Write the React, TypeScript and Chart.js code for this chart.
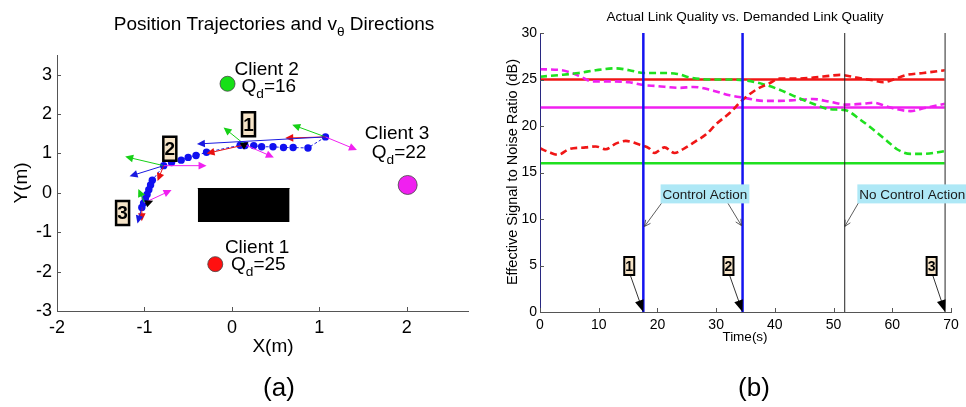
import React, { useEffect, useRef } from 'react';
import { Chart, registerables } from 'chart.js';
Chart.register(...registerables);

const FONT = 'Arial, "Liberation Sans", Helvetica, sans-serif';

// ---------------- Panel (a): trajectories ----------------
const trajX = [1.07, 0.87, 0.7, 0.59, 0.47, 0.34, 0.25, 0.15, 0.095, -0.29, -0.41, -0.5, -0.58, -0.69, -0.78, -0.91, -0.93, -0.95, -0.97, -0.99, -1.01, -1.03];
const trajY = [1.42, 1.14, 1.15, 1.15, 1.17, 1.17, 1.2, 1.2, 1.21, 1.03, 0.95, 0.9, 0.83, 0.77, 0.69, 0.32, 0.2, 0.08, -0.04, -0.15, -0.26, -0.37];
const thickFromIndex = 15;

const clientNames = ['Client 1', 'Client 2', 'Client 3'];
const clientX = [-0.19, -0.05, 2.01];
const clientY = [-1.81, 2.77, 0.2];
const clientQd = [25, 16, 22];
const clientColors = ['#ff1010', '#16e016', '#f020f0'];
const clientRadius = [7.5, 7.5, 9.5];
const clientLabelX = [-0.08, 0.03, 1.52];
const clientLabelY = [-1.52, 3.0, 1.37];
const clientQdX = [-0.01, 0.11, 1.6];
const clientQdY = [-1.96, 2.57, 0.89];

const obstacleX = [-0.39, 0.66];
const obstacleY = [-0.74, 0.11];

// quiver arrows: [x0, y0, x1, y1]
const greenArrows = [[1.07, 1.42, 0.69, 1.73], [0.15, 1.22, -0.095, 1.66], [-0.78, 0.69, -1.22, 0.92], [-1.0, -0.25, -1.07, 0.1]];
const magentaArrows = [[1.07, 1.42, 1.43, 1.09], [0.15, 1.22, 0.48, 0.9], [-0.78, 0.69, -0.29, 0.69], [-1.0, -0.25, -0.69, 0.07]];
const redArrows = [[1.07, 1.42, 0.61, 1.39], [0.15, 1.22, -0.29, 1.0], [-0.78, 0.69, -0.85, 0.3], [-1.03, -0.37, -1.03, -0.72]];
const blueArrows = [[1.07, 1.42, -0.4, 1.24], [-0.78, 0.69, -1.17, 0.42], [-1.03, -0.37, -1.08, -0.78]];
const blackArrows = [[0.13, 1.2, 0.19, 1.29], [-0.99, -0.28, -0.9, -0.2]];

const markerTextsA = ['1', '2', '3'];
const markerXA = [0.19, -0.71, -1.25];
const markerYA = [1.74, 1.12, -0.51];

// ---------------- Panel (b): link quality ----------------
const redT = [0, 1.5, 3.1, 4.9, 7.8, 9.5, 11.2, 12.9, 14.6, 16.9, 18.6, 19.5, 21.2, 22.9, 24.6, 26.6, 28.3, 30.0, 32.3, 34.5, 36.8, 39.1, 40.8, 43.7, 46.5, 49.4, 51.1, 53.9, 56.8, 58.5, 60.2, 62.5, 65.3, 69];
const redV = [17.6, 17.2, 16.9, 17.5, 17.7, 17.8, 17.5, 18.1, 18.4, 18.0, 17.6, 17.1, 17.7, 17.1, 17.6, 18.4, 19.1, 20.2, 21.4, 22.8, 23.9, 24.6, 25.1, 25.1, 25.2, 25.4, 25.5, 25.2, 24.9, 24.7, 25.0, 25.5, 25.7, 26.0];
const greenT = [0, 3.7, 6.6, 9.5, 12.9, 15.2, 17.6, 21.0, 23.4, 25.6, 29.5, 32.3, 35.1, 38.0, 40.8, 43.7, 46.5, 49.4, 52.0, 54.5, 56.8, 59.1, 60.8, 63.1, 65.3, 69];
const greenV = [25.3, 25.5, 25.7, 26.0, 26.2, 26.0, 25.7, 25.7, 25.6, 25.2, 25.0, 25.0, 24.9, 24.5, 23.9, 23.1, 22.4, 21.8, 21.7, 20.7, 19.6, 18.4, 17.5, 17.0, 17.0, 17.3];
const magentaT = [0, 3.7, 6.6, 8.9, 12.4, 15.2, 17.6, 19.8, 23.8, 26.1, 29.5, 32.3, 35.1, 38.0, 40.8, 43.7, 46.5, 49.4, 52.2, 55.1, 56.8, 59.1, 60.8, 63.1, 65.3, 69];
const magentaV = [26.1, 26.0, 25.4, 24.8, 24.8, 24.7, 24.4, 24.3, 24.1, 24.2, 23.8, 23.3, 23.0, 22.7, 22.7, 22.8, 22.9, 22.6, 22.3, 22.4, 22.5, 22.1, 21.8, 21.6, 21.9, 22.4];

const demandLevels = [25, 22, 16];
const demandEnd = 69;
const controlTimes = [17.6, 34.5];
const noControlTime = 51.9;
const endTime = 69.0;

const calloutTexts = ['Control Action', 'No Control Action'];
const calloutCenters = [[28.1, 12.7], [63.4, 12.7]];
const calloutArrows = [[20.7, 11.7, 17.8, 9.2], [32.0, 11.7, 34.3, 9.3], [54.3, 11.8, 51.9, 9.2]];
const markerTextsB = ['1', '2', '3'];
const markerCentersB = [[15.2, 4.95], [32.1, 4.95], [66.7, 4.95]];
const markerTipsB = [[17.6, 0], [34.5, 0], [69.0, 0]];

// ---------------- drawing helpers ----------------
type Part = { t: string; sub?: boolean };

function drawRich(ctx: CanvasRenderingContext2D, x: number, y: number, parts: Part[], size: number, align: 'left' | 'center') {
  const subSize = size * 0.72;
  const widths = parts.map((p) => {
    ctx.font = `${p.sub ? subSize : size}px ${FONT}`;
    return ctx.measureText(p.t).width;
  });
  const total = widths.reduce((a, b) => a + b, 0);
  let cx = align === 'center' ? x - total / 2 : x;
  ctx.textAlign = 'left';
  ctx.textBaseline = 'alphabetic';
  parts.forEach((p, i) => {
    ctx.font = `${p.sub ? subSize : size}px ${FONT}`;
    ctx.fillText(p.t, cx, p.sub ? y + size * 0.32 : y);
    cx += widths[i];
  });
}

function drawArrow(ctx: CanvasRenderingContext2D, x0: number, y0: number, x1: number, y1: number, color: string, lw: number, len: number, half: number, filled: boolean) {
  const a = Math.atan2(y1 - y0, x1 - x0);
  const c = Math.cos(a), s = Math.sin(a);
  ctx.save();
  ctx.strokeStyle = color;
  ctx.fillStyle = color;
  ctx.lineWidth = lw;
  ctx.beginPath();
  ctx.moveTo(x0, y0);
  ctx.lineTo(filled ? x1 - c * len * 0.8 : x1, filled ? y1 - s * len * 0.8 : y1);
  ctx.stroke();
  const bx = x1 - c * len, by = y1 - s * len;
  ctx.beginPath();
  ctx.moveTo(x1, y1);
  ctx.lineTo(bx - s * half, by + c * half);
  if (filled) {
    ctx.lineTo(bx + s * half, by - c * half);
    ctx.closePath();
    ctx.fill();
  } else {
    ctx.moveTo(x1, y1);
    ctx.lineTo(bx + s * half, by - c * half);
    ctx.stroke();
  }
  ctx.restore();
}

function drawMarkerBox(ctx: CanvasRenderingContext2D, cx: number, cy: number, text: string, size: number, w: number, h: number, lw: number) {
  ctx.save();
  ctx.fillStyle = '#f6e4c8';
  ctx.strokeStyle = '#000';
  ctx.lineWidth = lw;
  ctx.beginPath();
  ctx.rect(cx - w / 2, cy - h / 2, w, h);
  ctx.fill();
  ctx.stroke();
  ctx.fillStyle = '#000';
  ctx.font = `bold ${size}px ${FONT}`;
  ctx.textAlign = 'center';
  ctx.textBaseline = 'middle';
  ctx.fillText(text, cx, cy + 1);
  ctx.restore();
}

function drawInnerTicks(chart: any, len: number) {
  const { ctx, chartArea } = chart;
  const xs = chart.scales.x, ys = chart.scales.y;
  ctx.save();
  ctx.strokeStyle = '#555';
  ctx.lineWidth = 1;
  xs.ticks.forEach((t: any) => {
    const p = Math.round(xs.getPixelForValue(t.value)) + 0.5;
    ctx.beginPath();
    ctx.moveTo(p, chartArea.bottom);
    ctx.lineTo(p, chartArea.bottom - len);
    ctx.stroke();
  });
  ys.ticks.forEach((t: any) => {
    const p = Math.round(ys.getPixelForValue(t.value)) + 0.5;
    ctx.beginPath();
    ctx.moveTo(chartArea.left, p);
    ctx.lineTo(chartArea.left + len, p);
    ctx.stroke();
  });
  ctx.restore();
}

const arrowSets: [number[][], string][] = [
  [greenArrows, '#16d016'],
  [magentaArrows, '#f020f0'],
  [redArrows, '#e81010'],
  [blueArrows, '#1a1ae0'],
  [blackArrows, '#000'],
];

const panelAPlugin = {
  id: 'panelA',
  afterDatasetsDraw(chart: any) {
    const { ctx } = chart;
    const xs = chart.scales.x, ys = chart.scales.y;
    arrowSets.forEach(([list, color]) => {
      list.forEach((a) => {
        drawArrow(ctx, xs.getPixelForValue(a[0]), ys.getPixelForValue(a[1]), xs.getPixelForValue(a[2]), ys.getPixelForValue(a[3]), color, 1, 8, 3.8, true);
      });
    });
    markerTextsA.forEach((t, i) => {
      drawMarkerBox(ctx, xs.getPixelForValue(markerXA[i]), ys.getPixelForValue(markerYA[i]), t, 19, 13, 24, 2.5);
    });
    ctx.save();
    ctx.fillStyle = '#000';
    clientNames.forEach((n, i) => {
      drawRich(ctx, xs.getPixelForValue(clientLabelX[i]), ys.getPixelForValue(clientLabelY[i]), [{ t: n }], 19, 'left');
      drawRich(ctx, xs.getPixelForValue(clientQdX[i]), ys.getPixelForValue(clientQdY[i]), [{ t: 'Q' }, { t: 'd', sub: true }, { t: '=' + clientQd[i] }], 19, 'left');
    });
    ctx.restore();
  },
  afterDraw(chart: any) {
    const { ctx } = chart;
    drawInnerTicks(chart, 4);
    ctx.save();
    ctx.fillStyle = '#000';
    drawRich(ctx, 274, 30, [{ t: 'Position Trajectories and v' }, { t: 'θ', sub: true }, { t: ' Directions' }], 19, 'center');
    drawRich(ctx, 273, 352, [{ t: 'X(m)' }], 19, 'center');
    drawRich(ctx, 279, 396, [{ t: '(a)' }], 26, 'center');
    ctx.translate(27, 183);
    ctx.rotate(-Math.PI / 2);
    drawRich(ctx, 0, 0, [{ t: 'Y(m)' }], 19, 'center');
    ctx.restore();
  },
};

const panelBPlugin = {
  id: 'panelB',
  afterDatasetsDraw(chart: any) {
    const { ctx } = chart;
    const xs = chart.scales.x, ys = chart.scales.y;
    calloutArrows.forEach((a) => {
      drawArrow(ctx, xs.getPixelForValue(a[0]), ys.getPixelForValue(a[1]), xs.getPixelForValue(a[2]), ys.getPixelForValue(a[3]), '#333', 0.8, 6, 3, false);
    });
    calloutTexts.forEach((t, i) => {
      const cx = xs.getPixelForValue(calloutCenters[i][0]);
      const cy = ys.getPixelForValue(calloutCenters[i][1]);
      ctx.save();
      ctx.font = `13.5px ${FONT}`;
      const w = ctx.measureText(t).width + 4;
      ctx.fillStyle = '#aee8f6';
      ctx.fillRect(cx - w / 2, cy - 9.5, w, 19);
      ctx.fillStyle = '#1a1a1a';
      ctx.textAlign = 'center';
      ctx.textBaseline = 'middle';
      ctx.fillText(t, cx, cy + 1);
      ctx.restore();
    });
    markerTextsB.forEach((t, i) => {
      const cx = xs.getPixelForValue(markerCentersB[i][0]);
      const cy = ys.getPixelForValue(markerCentersB[i][1]);
      const tx = xs.getPixelForValue(markerTipsB[i][0]);
      const ty = ys.getPixelForValue(markerTipsB[i][1]);
      drawArrow(ctx, cx + 1, cy + 9, tx, ty, '#000', 0.8, 12, 4.5, true);
      drawMarkerBox(ctx, cx, cy, t, 14, 10, 18, 2);
    });
  },
  afterDraw(chart: any) {
    const { ctx } = chart;
    drawInnerTicks(chart, 4);
    ctx.save();
    ctx.fillStyle = '#000';
    drawRich(ctx, 265, 21, [{ t: 'Actual Link Quality vs. Demanded Link Quality' }], 13.5, 'center');
    drawRich(ctx, 265, 341, [{ t: 'Time(s)' }], 13.5, 'center');
    drawRich(ctx, 274, 396, [{ t: '(b)' }], 26, 'center');
    ctx.translate(37, 172);
    ctx.rotate(-Math.PI / 2);
    drawRich(ctx, 0, 0, [{ t: 'Effective Signal to Noise Ratio (dB)' }], 14.5, 'center');
    ctx.restore();
  },
};

function pts(xs: number[], ys: number[]) {
  return xs.map((x, i) => ({ x, y: ys[i] }));
}

function makeLeft(canvas: HTMLCanvasElement) {
  const datasets: any[] = [
    {
      data: [{ x: obstacleX[0], y: obstacleY[1] }, { x: obstacleX[1], y: obstacleY[1] }],
      fill: { value: obstacleY[0] },
      backgroundColor: '#000',
      borderColor: '#000',
      borderWidth: 1,
      pointRadius: 0,
      order: 3,
    },
    {
      data: pts(trajX, trajY),
      showLine: true,
      borderColor: '#2020e0',
      borderWidth: 1,
      borderDash: [3, 2],
      segment: {
        borderWidth: (c: any) => (c.p0DataIndex >= thickFromIndex ? 5 : 1),
        borderDash: (c: any) => (c.p0DataIndex >= thickFromIndex ? [] : [3, 2]),
        borderColor: (c: any) => (c.p0DataIndex >= thickFromIndex ? '#1010f0' : '#2020e0'),
      },
      pointRadius: 3.7,
      pointBackgroundColor: '#1010f0',
      pointBorderWidth: 0,
      order: 2,
    },
  ];
  clientNames.forEach((_, i) => {
    datasets.push({
      data: [{ x: clientX[i], y: clientY[i] }],
      showLine: false,
      pointRadius: clientRadius[i],
      pointBackgroundColor: clientColors[i],
      pointBorderColor: '#444',
      pointBorderWidth: 0.8,
      order: 1,
    });
  });
  return new Chart(canvas, {
    type: 'line',
    data: { datasets },
    options: {
      responsive: false,
      animation: false,
      devicePixelRatio: 1,
      layout: { padding: { left: 0, top: 55, right: 12, bottom: 0 } },
      plugins: { legend: { display: false }, tooltip: { enabled: false } },
      scales: {
        x: {
          type: 'linear',
          min: -2,
          max: 2.7,
          afterFit: (s: any) => { s.height = 96; },
          grid: { display: false, drawTicks: false },
          border: { display: true, color: '#555', width: 1 },
          ticks: { stepSize: 1, includeBounds: false, padding: 6, color: '#000', font: { family: FONT, size: 18 }, maxRotation: 0, autoSkip: false },
        },
        y: {
          type: 'linear',
          min: -3,
          max: 3.5,
          afterFit: (s: any) => { s.width = 57; },
          grid: { display: false, drawTicks: false },
          border: { display: true, color: '#555', width: 1 },
          ticks: { stepSize: 1, includeBounds: false, padding: 5, color: '#000', font: { family: FONT, size: 18 } },
        },
      },
    } as any,
    plugins: [panelAPlugin],
  });
}

function makeRight(canvas: HTMLCanvasElement) {
  const demandColors = ['#f01616', '#f020f0', '#1fe01f'];
  const datasets: any[] = [];
  demandLevels.forEach((v, i) => {
    datasets.push({ data: [{ x: 0, y: v }, { x: demandEnd, y: v }], borderColor: demandColors[i], borderWidth: 2.5, pointRadius: 0, order: 3 });
  });
  const series: [number[], number[], string][] = [
    [redT, redV, '#f01616'],
    [greenT, greenV, '#1fe01f'],
    [magentaT, magentaV, '#f020f0'],
  ];
  series.forEach(([t, v, c]) => {
    datasets.push({ data: pts(t, v), borderColor: c, borderWidth: 2.6, borderDash: [7, 4], pointRadius: 0, tension: 0.3, cubicInterpolationMode: 'monotone', order: 2 });
  });
  controlTimes.forEach((t) => {
    datasets.push({ data: [{ x: t, y: 0 }, { x: t, y: 30 }], borderColor: '#1414f0', borderWidth: 2.5, pointRadius: 0, order: 1 });
  });
  datasets.push({ data: [{ x: noControlTime, y: 0 }, { x: noControlTime, y: 30 }], borderColor: '#222', borderWidth: 1, pointRadius: 0, order: 1 });
  datasets.push({ data: [{ x: endTime, y: 0 }, { x: endTime, y: 30 }], borderColor: '#777', borderWidth: 1.6, pointRadius: 0, order: 1 });
  datasets.push({ data: [{ x: 0, y: 0 }, { x: 0, y: 30 }], borderColor: '#1a1a90', borderWidth: 1.5, pointRadius: 0, order: 0 });

  return new Chart(canvas, {
    type: 'line',
    data: { datasets },
    options: {
      responsive: false,
      animation: false,
      devicePixelRatio: 1,
      layout: { padding: { left: 0, top: 33, right: 15, bottom: 0 } },
      plugins: { legend: { display: false }, tooltip: { enabled: false } },
      scales: {
        x: {
          type: 'linear',
          min: 0,
          max: 70,
          afterFit: (s: any) => { s.height = 95; },
          grid: { display: false, drawTicks: false },
          border: { display: true, color: '#555', width: 1 },
          ticks: { stepSize: 10, padding: 5, color: '#000', font: { family: FONT, size: 14 }, maxRotation: 0, autoSkip: false },
        },
        y: {
          type: 'linear',
          min: 0,
          max: 30,
          afterFit: (s: any) => { s.width = 60; },
          grid: { display: false, drawTicks: false },
          border: { display: true, color: '#555', width: 1 },
          ticks: { stepSize: 5, padding: 3, color: '#000', font: { family: FONT, size: 14 } },
        },
      },
    } as any,
    plugins: [panelBPlugin],
  });
}

export default function App() {
  const leftRef = useRef<HTMLCanvasElement>(null);
  const rightRef = useRef<HTMLCanvasElement>(null);
  useEffect(() => {
    document.body.style.margin = '0';
    const a = makeLeft(leftRef.current!);
    const b = makeRight(rightRef.current!);
    return () => {
      a.destroy();
      b.destroy();
    };
  }, []);
  return (
    <div style={{ position: 'relative', width: 966, height: 407, background: '#fff', overflow: 'hidden' }}>
      <canvas ref={leftRef} width={480} height={407} style={{ position: 'absolute', left: 0, top: 0 }} />
      <canvas ref={rightRef} width={486} height={407} style={{ position: 'absolute', left: 480, top: 0 }} />
    </div>
  );
}
